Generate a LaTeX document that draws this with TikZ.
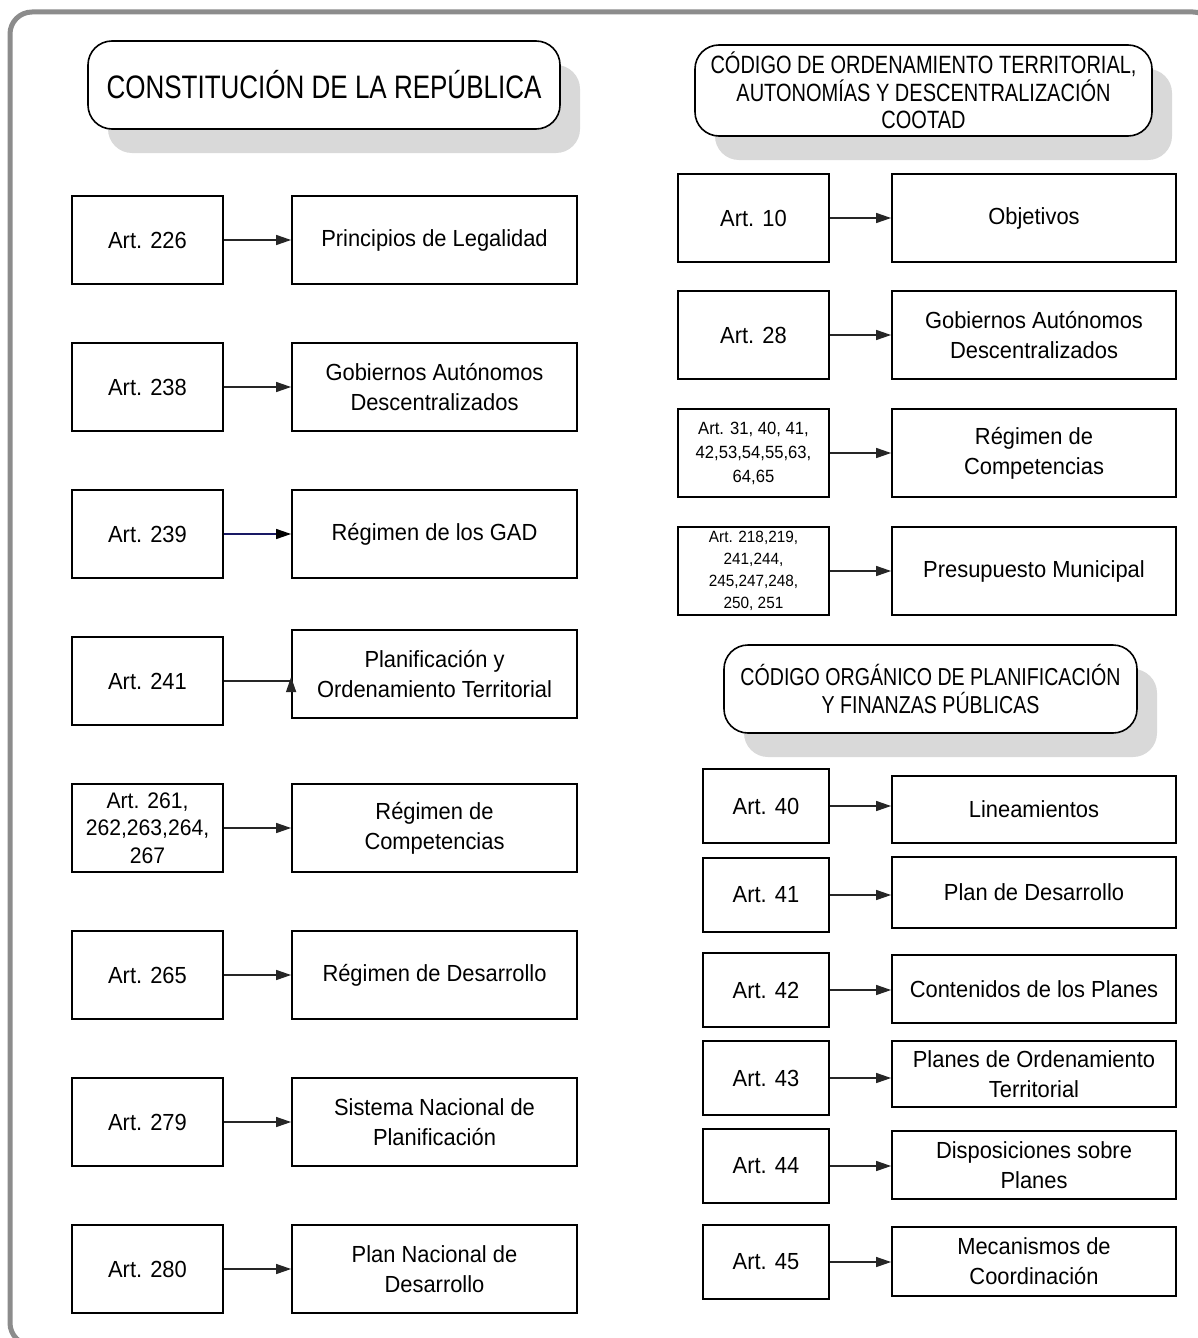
\documentclass[tikz,border=0pt]{standalone}
\usepackage{fontspec}
\setmainfont{Liberation Sans}
\newfontfamily\bodyf{Liberation Sans}[FakeStretch=0.94]
\newfontfamily\headf{Liberation Sans}[FakeStretch=0.8]
\usetikzlibrary{arrows.meta,shadows,calc}
\definecolor{navyline}{RGB}{25,25,100}
\begin{document}
\begin{tikzpicture}[x=1pt,y=-1pt,
  box/.style={draw=black, line width=1.8pt, fill=white, inner sep=0pt, align=center,
    font=\bodyf\fontsize{23.3}{30}\selectfont},
  aw/.style={minimum width=151pt, minimum height=88pt},
  bw/.style={minimum width=285pt, minimum height=88pt},
  ew/.style={minimum width=126pt, minimum height=74pt},
  fw/.style={minimum width=284pt, minimum height=#1},
  hdr/.style={draw=black, line width=1.6pt, rounded corners=24pt, fill=white, align=center,
    inner sep=0pt, drop shadow={shadow xshift=20pt, shadow yshift=-24pt, fill=black!15, opacity=1, draw=none}},
  conn/.style={line width=1.3pt, draw=black!85, -{Triangle[length=15pt,width=10pt]}},
]
\useasboundingbox (0,0) rectangle (1198,1338);
\clip (0,0) rectangle (1198,1338);
\fill[white] (0,0) rectangle (1198,1338);
\draw[line width=5pt, draw=black!45, rounded corners=22pt] (10,12) rectangle (1215,1345);

% headers
\node[hdr, minimum width=472pt, minimum height=88pt, font=\headf\fontsize{32.5}{38}\selectfont] (h1) at (324,85) {CONSTITUCIÓN DE LA REPÚBLICA};
\node[hdr, minimum width=457pt, minimum height=91pt, font=\headf\fontsize{25}{27.5}\selectfont] (h2) at (923.5,90.5) {CÓDIGO DE ORDENAMIENTO TERRITORIAL,\\AUTONOMÍAS Y DESCENTRALIZACIÓN\\COOTAD};
\node[hdr, minimum width=413pt, minimum height=88pt, font=\headf\fontsize{24.5}{28}\selectfont] (h3) at (930.5,689) {CÓDIGO ORGÁNICO DE PLANIFICACIÓN\\Y FINANZAS PÚBLICAS};

% left column
\node[box,aw] (a226) at (147.5,240) {Art. 226};
\node[box,bw] (b226) at (434.5,240) {Principios de Legalidad};
\node[box,aw] (a238) at (147.5,387) {Art. 238};
\node[box,bw] (b238) at (434.5,387) {Gobiernos Autónomos\\Descentralizados};
\node[box,aw] (a239) at (147.5,534) {Art. 239};
\node[box,bw] (b239) at (434.5,534) {Régimen de los GAD};
\node[box,aw] (a241) at (147.5,681) {Art. 241};
\node[box,bw] (b241) at (434.5,674) {Planificación y\\Ordenamiento Territorial};
\node[box,aw,font=\bodyf\fontsize{22.5}{27.5}\selectfont] (a261) at (147.5,828) {Art. 261,\\262,263,264,\\267};
\node[box,bw] (b261) at (434.5,828) {Régimen de\\Competencias};
\node[box,aw] (a265) at (147.5,975) {Art. 265};
\node[box,bw] (b265) at (434.5,975) {Régimen de Desarrollo};
\node[box,aw] (a279) at (147.5,1122) {Art. 279};
\node[box,bw] (b279) at (434.5,1122) {Sistema Nacional de\\Planificación};
\node[box,aw] (a280) at (147.5,1269) {Art. 280};
\node[box,bw] (b280) at (434.5,1269) {Plan Nacional de\\Desarrollo};

% right column, COOTAD
\node[box,aw] (c10) at (753.5,218) {Art. 10};
\node[box,fw=88pt] (d10) at (1034,218) {Objetivos};
\node[box,aw] (c28) at (753.5,335) {Art. 28};
\node[box,fw=88pt] (d28) at (1034,335) {Gobiernos Autónomos\\Descentralizados};
\node[box,aw,font=\bodyf\fontsize{17.7}{24}\selectfont] (c31) at (753.5,453) {Art. 31, 40, 41,\\42,53,54,55,63,\\64,65};
\node[box,fw=88pt] (d31) at (1034,453) {Régimen de\\Competencias};
\node[box,aw,font=\bodyf\fontsize{16.3}{22}\selectfont] (c218) at (753.5,571) {Art. 218,219,\\241,244,\\245,247,248,\\250, 251};
\node[box,fw=88pt] (d218) at (1034,571) {Presupuesto Municipal};

% right column, COPFP
\node[box,ew] (e40) at (766,806) {Art. 40};
\node[box,fw=67pt] (f40) at (1034,809.5) {Lineamientos};
\node[box,ew] (e41) at (766,895) {Art. 41};
\node[box,fw=71pt] (f41) at (1034,892.5) {Plan de Desarrollo};
\node[box,ew] (e42) at (766,990) {Art. 42};
\node[box,fw=68pt] (f42) at (1034,989) {Contenidos de los Planes};
\node[box,ew] (e43) at (766,1078) {Art. 43};
\node[box,fw=66pt] (f43) at (1034,1074) {Planes de Ordenamiento\\Territorial};
\node[box,ew] (e44) at (766,1166) {Art. 44};
\node[box,fw=68pt] (f44) at (1034,1165) {Disposiciones sobre\\Planes};
\node[box,ew] (e45) at (766,1262) {Art. 45};
\node[box,fw=69pt] (f45) at (1034,1261.5) {Mecanismos de\\Coordinación};

% connectors
\foreach \s/\t in {a226/b226,a238/b238,a261/b261,a265/b265,a279/b279,a280/b280,
  c10/d10,c28/d28,c31/d31,c218/d218,e40/f40,e41/f41,e42/f42,e43/f43,e44/f44,e45/f45}
  \draw[conn] (\s.east) -- (\s.east -| \t.west);
\draw[conn, draw=navyline, -{Triangle[length=15pt,width=10pt,color=black]}] (a239.east) -- (a239.east -| b239.west);
\draw[conn] (a241.east) -- (a241.east -| b241.west) -- ++(0,-4);
\end{tikzpicture}
\end{document}
